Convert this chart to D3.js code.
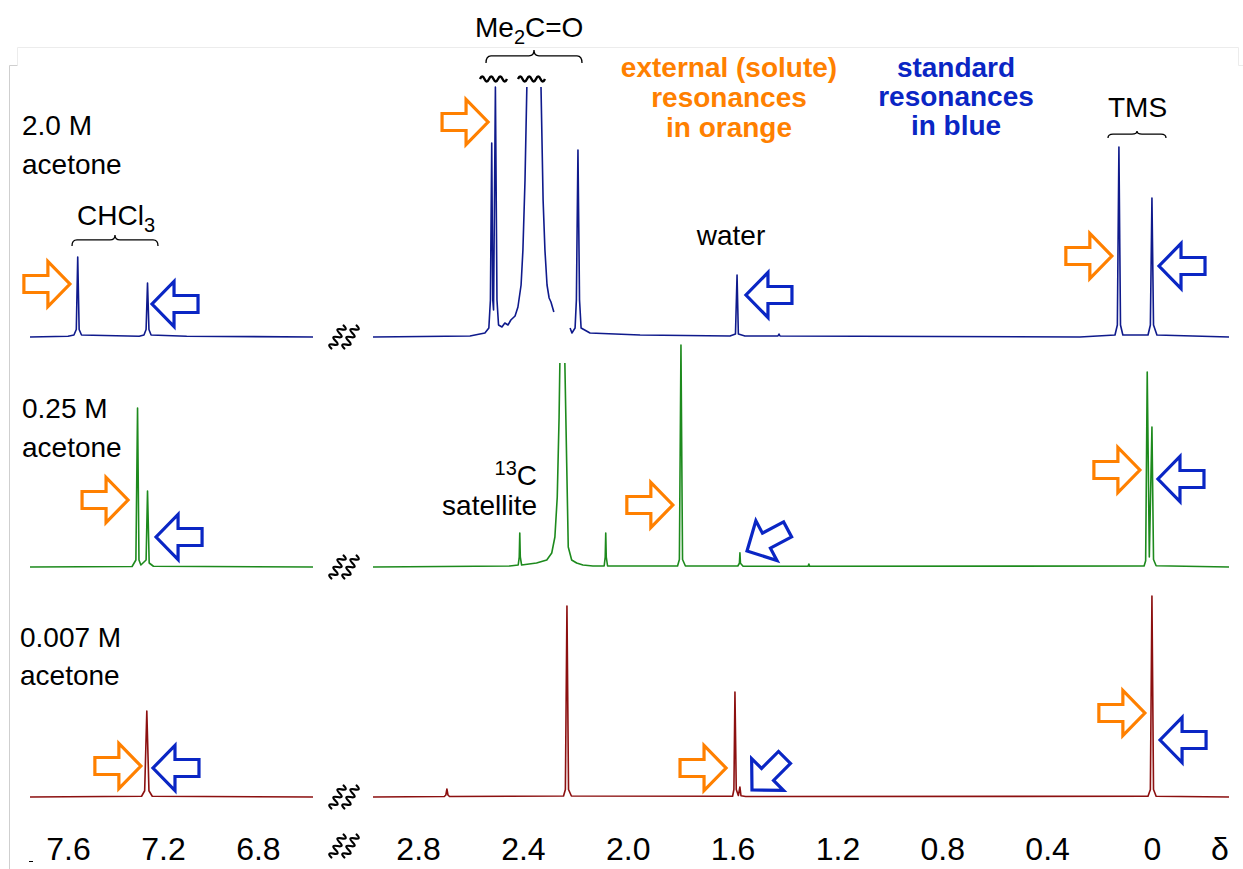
<!DOCTYPE html>
<html>
<head>
<meta charset="utf-8">
<script src="https://cdn.jsdelivr.net/npm/d3@7"></script>
<style>
  body { margin: 0; background: #fff; }
  svg { display: block; font-family: "Liberation Sans", Arial, Helvetica, sans-serif; }
</style>
</head>
<body>
<div id="chart"></div>
<script>
// chemical shift axes (ppm), split in two segments
const leftDomain  = [7.76, 6.568];
const rightDomain = [2.972, -0.294];
const leftTicks  = [7.6, 7.2, 6.8];
const rightTicks = [2.8, 2.4, 2.0, 1.6, 1.2, 0.8, 0.4, 0];

const sampleLabels = ['2.0 M', '0.25 M', '0.007 M'];

// spectra as [ppm, intensity]; null intensity = trace clipped / broken
const blueLeft = [[7.76,0],[7.60,0.3],[7.575,0.8],[7.565,3],[7.559,32],[7.553,3],[7.543,0.8],
  [7.30,0.3],[7.28,0.8],[7.271,3],[7.265,21.6],[7.259,3],[7.25,0.8],[7.1,0.3],[6.568,0]];
const blueRight = [[2.972,0],[2.602,0.4],[2.545,1.6],[2.530,3.6],[2.524,14.8],[2.519,77.6],
  [2.515,14.8],[2.512,10.8],[2.505,100],[2.499,14.8],[2.493,4.8],[2.480,4],[2.469,5.6],
  [2.457,4.8],[2.446,6.8],[2.430,8.4],[2.419,12],[2.407,20.8],[2.400,34.8],[2.392,62.8],
  [2.385,100],[2.36,null],[2.331,100],[2.323,54.8],[2.316,34.8],[2.308,20.8],[2.300,15.6],
  [2.293,14],[2.282,10],[2.25,null],[2.220,3.6],[2.213,1.6],[2.201,3.6],[2.196,14.8],
  [2.190,74.8],[2.184,14.8],[2.178,3.6],[2.144,1.6],[1.953,0.8],[1.610,0.4],[1.589,1.2],
  [1.583,24.8],[1.578,1.2],[1.553,0.4],[1.427,0.4],[1.423,1.2],[1.419,0.4],[0.275,0],
  [0.141,0.8],[0.132,4.8],[0.126,76],[0.120,4.8],[0.111,0.8],[0.015,0.8],[0.006,4.8],
  [0,55.6],[-0.006,4.8],[-0.019,0.8],[-0.294,0]];

const greenLeft = [[7.76,0],[7.33,0.2],[7.314,2.8],[7.307,63.6],[7.301,2.8],[7.293,0.8],
  [7.271,2.8],[7.265,30.4],[7.258,1.6],[7.24,0.3],[6.568,0]];
const greenRight = [[2.972,0],[2.45,0.4],[2.418,0.8],[2.414,4],[2.412,13.6],[2.410,4],
  [2.405,0.8],[2.348,1.6],[2.309,2.8],[2.290,5.6],[2.278,12],[2.269,28],[2.262,60],
  [2.259,81.6],[2.25,null],[2.240,81.6],[2.233,41.6],[2.227,8],[2.214,2.8],[2.195,1.6],
  [2.171,0.8],[2.133,0.4],[2.09,0.4],[2.086,4],[2.084,13.6],[2.082,4],[2.077,0.4],
  [1.81,0.4],[1.803,3],[1.797,88.8],[1.791,3],[1.78,0.4],[1.58,0.4],[1.574,1.5],
  [1.572,5.7],[1.570,1.5],[1.56,0.3],[1.312,0.3],[1.309,1.2],[1.306,0.3],[0.03,0.4],
  [0.024,2.5],[0.018,78],[0.010,4],[0,56],[-0.006,3],[-0.016,0.5],[-0.294,0]];

const redLeft = [[7.76,0],[7.29,0.3],[7.277,2.5],[7.268,34.4],[7.259,2.5],[7.245,0.3],[6.568,0]];
const redRight = [[2.972,0],[2.70,0.2],[2.694,0.8],[2.690,3.2],[2.686,0.8],[2.68,0.2],
  [2.245,0.4],[2.238,3],[2.232,76.4],[2.226,3],[2.215,0.4],[1.60,0.3],[1.595,3],[1.591,42],
  [1.586,3],[1.578,0.6],[1.572,4],[1.568,0.5],[1.55,0.2],[0.015,0.3],[0.006,3],[0,80.4],
  [-0.006,3],[-0.016,0.3],[-0.294,0]];

// arrows: [ppm of tip, intensity of tip, angle, kind]
const blueArrows = [[7.592,21.2,0,'ext'],[7.246,13.2,180,'std'],[2.533,86,0,'ext'],
  [1.549,16.8,180,'std'],[0.153,32.4,0,'ext'],[-0.027,28.4,180,'std']];
const greenArrows = [[7.347,26.8,0,'ext'],[7.229,12,180,'std'],[1.828,24.8,0,'ext'],
  [1.545,6.4,152,'std'],[0.046,38.8,0,'ext'],[-0.023,35.2,180,'std']];
const redArrows = [[7.293,12.4,0,'ext'],[7.242,11.6,180,'std'],[1.625,11.6,0,'ext'],
  [1.526,2.8,135,'std'],[0.027,33.6,0,'ext'],[-0.031,22.8,180,'std']];

const panels = [
  {label: sampleLabels[0], color: '#0f1a8c', left: blueLeft,  right: blueRight,  arrows: blueArrows,  base: 337},
  {label: sampleLabels[1], color: '#1d8a1d', left: greenLeft, right: greenRight, arrows: greenArrows, base: 567},
  {label: sampleLabels[2], color: '#8c1010', left: redLeft,   right: redRight,   arrows: redArrows,   base: 797}
];

const width = 1243, height = 869;
const ORANGE = '#ff8000', BLUE = '#0a26c4';

const svg = d3.select('#chart').append('svg')
  .attr('width', width).attr('height', height);

// faint frame
const frame = svg.append('g').attr('fill', 'none');
frame.append('path').attr('stroke', '#ececec')
  .attr('d', 'M17.5,65 V47.5 H1238.5 V65.5 H1243');
frame.append('path').attr('stroke', '#cfcfcf')
  .attr('d', 'M17.5,65.5 H9.5 V869');

const xL = d3.scaleLinear().domain(leftDomain).range([30, 313]);
const xR = d3.scaleLinear().domain(rightDomain).range([373, 1229]);
const xOf = p => p > 5 ? xL(p) : xR(p);

const arrowShape = 'M-46,-8.5H-22V-22.5L0,0L-22,22.5V8.5H-46Z';

panels.forEach(P => {
  const y = d3.scaleLinear().domain([0, 100]).range([P.base, P.base - 250]);
  const g = svg.append('g');
  [[P.left, xL], [P.right, xR]].forEach(([T, xs]) => {
    const line = d3.line().defined(d => d[1] != null).x(d => xs(d[0])).y(d => y(d[1]));
    g.append('path')
      .datum(T)
      .attr('fill', 'none')
      .attr('stroke', P.color)
      .attr('stroke-width', 1.6)
      .attr('stroke-linejoin', 'round')
      .attr('d', line);
  });
  g.selectAll('.arrow').data(P.arrows).join('path')
    .attr('class', 'arrow')
    .attr('d', arrowShape)
    .attr('transform', d => `translate(${xOf(d[0])},${y(d[1])}) rotate(${d[2]})`)
    .attr('fill', '#fff')
    .attr('stroke', d => d[3] == 'ext' ? ORANGE : BLUE)
    .attr('stroke-width', 3.2);
});

// axes
const fmt = d => d === 0 ? '0' : d.toFixed(1);
[[xL, leftTicks], [xR, rightTicks]].forEach(([xs, ticks]) => {
  const ax = svg.append('g')
    .attr('transform', 'translate(0,837)')
    .call(d3.axisBottom(xs).tickValues(ticks).tickFormat(fmt).tickSize(0).tickPadding(0));
  ax.select('.domain').remove();
  ax.selectAll('text').attr('font-size', 32).attr('fill', '#000')
    .attr('font-family', '"Liberation Sans", Arial, sans-serif');
});
svg.append('text').attr('x', 1220).attr('y', 860).attr('text-anchor', 'middle')
  .attr('font-size', 32).text('δ');
svg.append('line').attr('x1', 29).attr('x2', 33).attr('y1', 861.5).attr('y2', 861.5)
  .attr('stroke', '#000');

// break squiggles
function squiggle(cx, cy) {
  const s = svg.append('g').attr('transform', `translate(${cx},${cy})`)
    .attr('fill', 'none').attr('stroke', '#000').attr('stroke-width', 2.2)
    .attr('stroke-linecap', 'round');
  [-6.5, 6.5].forEach(dx => {
    s.append('path')
      .attr('transform', `translate(${dx},0) rotate(-62)`)
      .attr('d', 'M-13,0 q2.2,-7 4.33,0 t4.33,0 t4.33,0 t4.33,0 t4.33,0 t4.33,0');
  });
}
panels.forEach(P => squiggle(344, P.base));
squiggle(344, 846);

// sample labels
const lab = svg.append('g').attr('font-size', 28).attr('fill', '#000');
[[22, 135, 174], [22, 418, 457], [20, 647, 685]].forEach((p, i) => {
  lab.append('text').attr('x', p[0]).attr('y', p[1]).text(sampleLabels[i]);
  lab.append('text').attr('x', p[0]).attr('y', p[2]).text('acetone');
});

// peak labels
const chcl3 = lab.append('text').attr('x', 77).attr('y', 225);
chcl3.append('tspan').text('CHCl');
chcl3.append('tspan').attr('font-size', 20).attr('dy', 7).text('3');

const me = lab.append('text').attr('x', 475).attr('y', 37);
me.append('tspan').text('Me');
me.append('tspan').attr('font-size', 20).attr('dy', 7).text('2');
me.append('tspan').attr('dy', -7).text('C=O');

lab.append('text').attr('x', 1108).attr('y', 117).text('TMS');
lab.append('text').attr('x', 731).attr('y', 245).attr('text-anchor', 'middle').text('water');

const c13 = lab.append('text').attr('x', 537).attr('y', 485).attr('text-anchor', 'end');
c13.append('tspan').attr('font-size', 20).attr('dy', -10).text('13');
c13.append('tspan').attr('dy', 10).text('C');
lab.append('text').attr('x', 537).attr('y', 515).attr('text-anchor', 'end').text('satellite');

// legend-like notes
const notes = [
  {x: 729, color: ORANGE, lines: ['external (solute)', 'resonances', 'in orange'], ys: [77, 107, 137]},
  {x: 956, color: BLUE,   lines: ['standard', 'resonances', 'in blue'], ys: [77, 106, 135]}
];
notes.forEach(n => {
  n.lines.forEach((t, i) => svg.append('text')
    .attr('x', n.x).attr('y', n.ys[i]).attr('text-anchor', 'middle')
    .attr('font-size', 28).attr('font-weight', 'bold').attr('fill', n.color).text(t));
});

// braces
function brace(x1, x2, yTip, yEnd) {
  const xm = (x1 + x2) / 2, yh = yTip + (yEnd - yTip) * 0.45, r = 5;
  svg.append('path')
    .attr('fill', 'none').attr('stroke', '#000').attr('stroke-width', 1.3)
    .attr('d', `M${x1},${yEnd} Q${x1},${yh} ${x1 + r},${yh} L${xm - r},${yh} Q${xm},${yh} ${xm},${yTip}` +
               ` Q${xm},${yh} ${xm + r},${yh} L${x2 - r},${yh} Q${x2},${yh} ${x2},${yEnd}`);
}
brace(72, 158, 235, 246);
brace(486, 582, 50, 63);
brace(1108, 1166, 131, 138);

// wavy marks over clipped peaks
[480, 518].forEach(x0 => svg.append('path')
  .attr('fill', 'none').attr('stroke', '#000').attr('stroke-width', 2.4)
  .attr('d', `M${x0},79 q2.25,-5 4.5,0 t4.5,0 t4.5,0 t4.5,0 t4.5,0 t4.5,0`));
</script>
</body>
</html>
